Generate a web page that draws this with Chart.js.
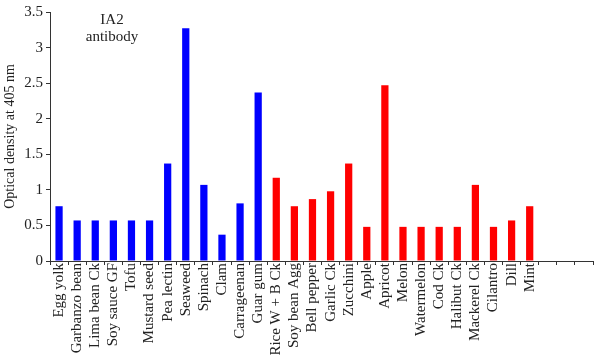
<!DOCTYPE html>
<html>
<head>
<meta charset="utf-8">
<script src="https://cdn.jsdelivr.net/npm/chart.js@4"></script>
<style>
html,body{margin:0;padding:0;background:#fff;}
#wrap{width:600px;height:355px;position:relative;}
</style>
</head>
<body>
<div id="wrap"><canvas id="c" width="600" height="355"></canvas></div>
<script>
const categories = ["Egg yolk","Garbanzo bean","Lima bean Ck","Soy sauce GF","Tofu","Mustard seed","Pea lectin","Seaweed","Spinach","Clam","Carrageenan","Guar gum","Rice W + B Ck","Soy bean Agg","Bell pepper","Garlic Ck","Zucchini","Apple","Apricot","Melon","Watermelon","Cod Ck","Halibut Ck","Mackerel Ck","Cilantro","Dill","Mint","","",""];
const opticalDensity = [0.77,0.57,0.57,0.57,0.57,0.57,1.37,3.27,1.07,0.37,0.81,2.37,1.17,0.77,0.87,0.98,1.37,0.48,2.47,0.48,0.48,0.48,0.48,1.07,0.48,0.57,0.77,null,null,null];
const groups = ["blue","blue","blue","blue","blue","blue","blue","blue","blue","blue","blue","blue","red","red","red","red","red","red","red","red","red","red","red","red","red","red","red","","",""];
const yTicks = [0,0.5,1,1.5,2,2.5,3,3.5];
const groupColors = {blue:"#0000FF", red:"#FF0000", "":"#000000"};
const annotationLines = ["IA2","antibody"];

const annot = {
  id:"annot",
  afterDraw(chart){
    const ctx = chart.ctx;
    ctx.save();
    ctx.fillStyle = "#222";
    ctx.font = "15px 'Liberation Serif'";
    ctx.textAlign = "center";
    ctx.textBaseline = "middle";
    ctx.fillText(annotationLines[0], 112, 20);
    ctx.fillText(annotationLines[1], 112, 37);
    ctx.restore();
  }
};

new Chart(document.getElementById("c"), {
  type:"bar",
  data:{
    labels:categories,
    datasets:[{
      data:opticalDensity,
      backgroundColor:groups.map(g=>groupColors[g]),
      barPercentage:0.4,
      categoryPercentage:1.0
    }]
  },
  options:{
    responsive:false,
    animation:false,
    devicePixelRatio:1,
    layout:{padding:{top:7,right:0,left:0,bottom:0}},
    plugins:{legend:{display:false},tooltip:{enabled:false}},
    scales:{
      x:{
        offset:true,
        grid:{offset:true,drawOnChartArea:false,drawTicks:true,tickLength:4,color:"#333",lineWidth:1},
        border:{display:true,color:"#333",width:1},
        ticks:{maxRotation:90,minRotation:90,autoSkip:false,color:"#222",padding:-2,font:{family:"Liberation Serif",size:15}},
        afterFit(s){ s.height = 94; }
      },
      y:{
        min:0,max:3.5,
        afterBuildTicks(s){ s.ticks = yTicks.map(v=>({value:v})); },
        grid:{drawOnChartArea:false,drawTicks:true,tickLength:4,color:"#333"},
        border:{display:true,color:"#333",width:1},
        ticks:{color:"#222",padding:3,font:{family:"Liberation Serif",size:15},callback:v=>String(v)},
        title:{display:true,text:"Optical density at 405 nm",color:"#222",font:{family:"Liberation Serif",size:14},padding:{top:2,bottom:2}},
        afterFit(s){ s.width = 50; }
      }
    }
  },
  plugins:[annot]
});
</script>
</body>
</html>
